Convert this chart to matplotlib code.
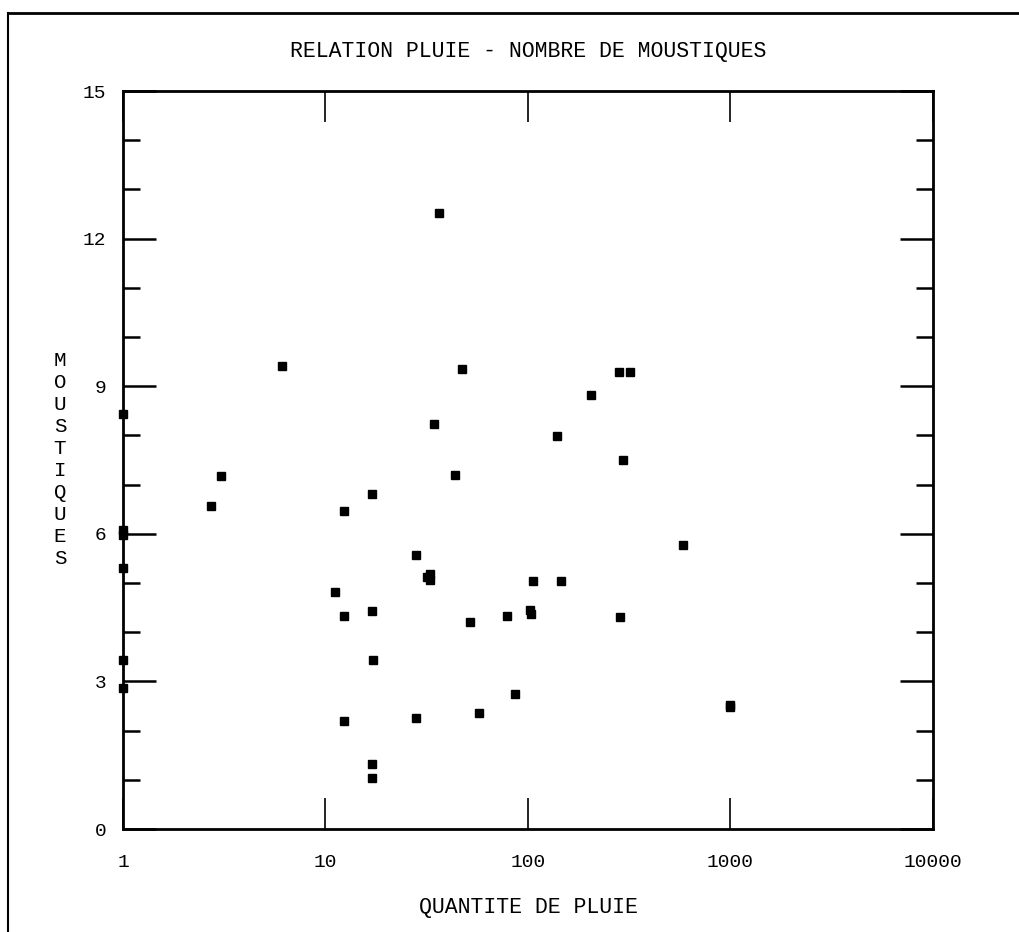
import matplotlib
matplotlib.use("Agg")
import matplotlib.pyplot as plt
from matplotlib.lines import Line2D
from matplotlib.ticker import FixedLocator, NullLocator, FixedFormatter

# ---- data ----
rain = [1, 1, 1, 1, 1, 1,
        2.72, 3.06, 6.08,
        11.1, 12.4, 12.4, 12.4,
        16.9, 16.9, 17.2, 16.9, 16.9,
        28, 28, 31.6, 32.8, 32.8, 34.5, 36.2,
        43.6, 47.2, 51.7, 57.5,
        79, 86.3, 102, 104, 105.9,
        139.6, 145.5, 205.4, 281.4, 284.7, 294.5, 318,
        580.6, 994, 1000]
mosquitoes = [8.43, 6.08, 5.97, 5.30, 3.43, 2.87,
              6.57, 7.18, 9.41,
              4.82, 6.46, 4.32, 2.20,
              6.80, 4.44, 3.43, 1.33, 1.03,
              5.56, 2.25, 5.13, 5.18, 5.06, 8.24, 12.53,
              7.20, 9.34, 4.20, 2.35,
              4.32, 2.74, 4.45, 4.38, 5.05,
              7.99, 5.05, 8.82, 9.29, 4.30, 7.50, 9.29,
              5.77, 2.48, 2.53]

x_ticks = [1, 10, 100, 1000, 10000]
x_tick_labels = ["1", "10", "100", "1000", "10000"]
y_major = [0, 3, 6, 9, 12, 15]
y_minor = [1, 2, 4, 5, 7, 8, 10, 11, 13, 14]

title = "RELATION PLUIE - NOMBRE DE MOUSTIQUES"
xlabel = "QUANTITE DE PLUIE"
ylabel = "MOUSTIQUES"

FONT = ["Liberation Mono", "DejaVu Sans Mono"]

fig = plt.figure(figsize=(10.20, 9.32), dpi=100)
ax = fig.add_axes([123/1020, 1 - 829/932, (933-123)/1020, (829-91)/932])

ax.plot(rain, mosquitoes, linestyle="none", marker="s", markersize=5.5,
        color="black", clip_on=False, zorder=5)

ax.set_xscale("log")
ax.set_xlim(1, 10000)
ax.set_ylim(0, 15)

ax.xaxis.set_major_locator(FixedLocator(x_ticks))
ax.xaxis.set_major_formatter(FixedFormatter(x_tick_labels))
ax.xaxis.set_minor_locator(NullLocator())
ax.yaxis.set_major_locator(FixedLocator(y_major))
ax.yaxis.set_minor_locator(FixedLocator(y_minor))

for s in ax.spines.values():
    s.set_linewidth(2.0)
    s.set_color("black")

ax.tick_params(axis="y", which="major", direction="in", length=24, width=1.8,
               left=True, right=True, labelsize=14, pad=12)
ax.tick_params(axis="y", which="minor", direction="in", length=12, width=1.8,
               left=True, right=True)
ax.tick_params(axis="x", which="major", direction="in", length=22, width=1.2,
               top=True, bottom=True, labelsize=14, pad=18)

for lab in ax.get_xticklabels() + ax.get_yticklabels():
    lab.set_family(FONT)

fig.text(528/1020, 1 - 52/932, title, ha="center", va="center",
         fontsize=15.5, family=FONT)
fig.text(528/1020, 1 - 907/932, xlabel, ha="center", va="center",
         fontsize=15.5, family=FONT)
fig.text(60/1020, 1 - 460/932, "\n".join(ylabel), ha="center", va="center",
         fontsize=15, family=FONT, linespacing=1.2)

# outer frame (top and left borders of the scanned page)
fig.add_artist(Line2D([8/1020, 1.0], [1 - 13/932, 1 - 13/932],
                      transform=fig.transFigure, color="black", linewidth=2.0))
fig.add_artist(Line2D([8/1020, 8/1020], [1 - 13/932, 0.0],
                      transform=fig.transFigure, color="black", linewidth=1.5))

fig.savefig("out.png", dpi=100)
